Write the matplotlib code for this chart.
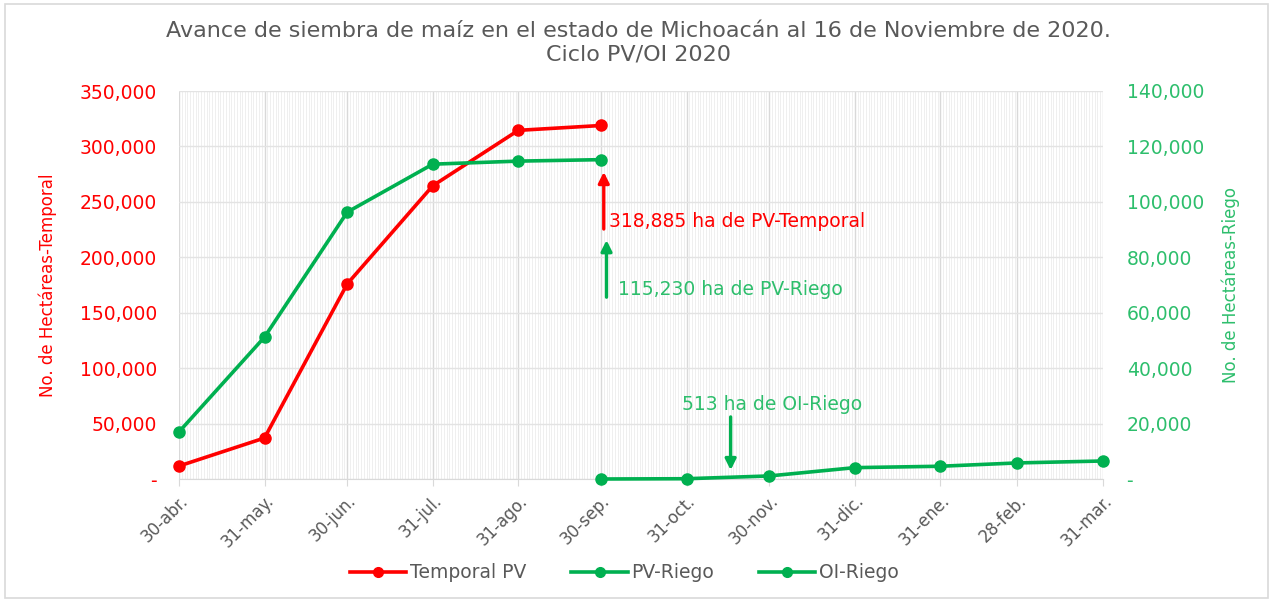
import matplotlib
matplotlib.use("Agg")
import matplotlib.pyplot as plt
import matplotlib.dates as mdates
from matplotlib.ticker import FuncFormatter, FixedLocator
from matplotlib.lines import Line2D
from matplotlib.patches import Rectangle
import pandas as pd

# ---- data ----
dates = ["2020-04-30", "2020-05-31", "2020-06-30", "2020-07-31", "2020-08-31", "2020-09-30",
         "2020-10-31", "2020-11-30", "2020-12-31", "2021-01-31", "2021-02-28", "2021-03-31"]
tick_labels = ["30-abr.", "31-may.", "30-jun.", "31-jul.", "31-ago.", "30-sep.",
               "31-oct.", "30-nov.", "31-dic.", "31-ene.", "28-feb.", "31-mar."]
temporal_dates = dates[:6]
temporal_pv = [11700, 37000, 176000, 264500, 314500, 318885]
pv_riego_dates = dates[:6]
pv_riego = [17000, 51200, 96300, 113600, 114700, 115230]
oi_riego_dates = dates[5:]
oi_riego = [0, 100, 1100, 4100, 4600, 5800, 6500]

RED = "#FF0000"
GREEN = "#00B050"
GREEN_TXT = "#2DBE6C"
GRAY = "#595959"
FONT = "DejaVu Sans"
plt.rcParams["font.family"] = [FONT]

fig = plt.figure(figsize=(12.73, 6.0), dpi=100)
fig.patches.append(Rectangle((0.004, 0.004), 0.992, 0.99, transform=fig.transFigure,
                             fill=False, edgecolor="#D9D9D9", lw=1.2))

ax = fig.add_axes([179 / 1273, 1 - 479 / 600, (1103 - 179) / 1273, (479 - 91) / 600])
ax2 = ax.twinx()

xd = mdates.date2num(pd.to_datetime(dates))
xt = mdates.date2num(pd.to_datetime(temporal_dates))
xp = mdates.date2num(pd.to_datetime(pv_riego_dates))
xo = mdates.date2num(pd.to_datetime(oi_riego_dates))

# grid: daily minor lines, major at each category
days = mdates.date2num(pd.date_range(dates[0], dates[-1], freq="D"))
ax.set_xlim(xd[0], xd[-1])
ax.xaxis.set_major_locator(FixedLocator(xd))
ax.xaxis.set_minor_locator(FixedLocator(days))
ax.set_xticklabels(tick_labels, rotation=45, ha="right", rotation_mode="anchor",
                   color=GRAY, fontsize=12)
ax.tick_params(axis="x", which="major", length=5, color="#D9D9D9", pad=4)
ax.tick_params(axis="x", which="minor", length=0)
ax.grid(True, which="minor", axis="x", color="#EDEDED", lw=0.6)
ax.grid(True, which="major", axis="x", color="#D9D9D9", lw=1.0)
ax.grid(True, which="major", axis="y", color="#E3E3E3", lw=1.0)
ax.set_axisbelow(True)

ax.set_ylim(0, 350000)
ax.set_yticks(range(0, 350001, 50000))
ax2.set_ylim(0, 140000)
ax2.set_yticks(range(0, 140001, 20000))

fmt = FuncFormatter(lambda v, p: "-" if v == 0 else f"{int(v):,}")
ax.yaxis.set_major_formatter(fmt)
ax2.yaxis.set_major_formatter(fmt)
ax.tick_params(axis="y", length=0, labelcolor=RED, labelsize=13.5, pad=16)
ax2.tick_params(axis="y", length=0, labelcolor=GREEN_TXT, labelsize=13.5, pad=17)

for a in (ax, ax2):
    for s in a.spines.values():
        s.set_visible(False)
ax.spines["bottom"].set_visible(True)
ax.spines["bottom"].set_color("#D9D9D9")

ax.set_ylabel("No. de Hectáreas-Temporal", color=RED, fontsize=12)
ax2.set_ylabel("No. de Hectáreas-Riego", color=GREEN_TXT, fontsize=12)
ax.yaxis.set_label_coords((57 - 179) / 924, 0.5)
ax2.yaxis.set_label_coords((1222 - 179) / 924, 0.5)

lw, ms = 2.6, 8
ax.plot(xt, temporal_pv, color=RED, lw=lw, marker="o", ms=ms, zorder=5, clip_on=False)
ax2.plot(xp, pv_riego, color=GREEN, lw=lw, marker="o", ms=ms, zorder=5, clip_on=False)
ax2.plot(xo, oi_riego, color=GREEN, lw=lw, marker="o", ms=ms, zorder=5, clip_on=False)

# annotations
def dn(s):
    return mdates.date2num(pd.Timestamp(s))

ap = dict(arrowstyle="-|>", lw=2.4, mutation_scale=16, shrinkA=0, shrinkB=0)
ax2.annotate("", xy=(dn("2020-10-01"), 277000 * 0.4), xytext=(dn("2020-10-01"), 225500 * 0.4),
             arrowprops=dict(ap, color=RED), zorder=6)
ax2.text(dn("2020-10-03"), 232000 * 0.4, "318,885 ha de PV-Temporal", color=RED, fontsize=13.5,
         va="center", ha="left")
ax2.annotate("", xy=(dn("2020-10-02"), 215500 * 0.4), xytext=(dn("2020-10-02"), 164000 * 0.4),
             arrowprops=dict(ap, color=GREEN), zorder=6)
ax2.text(dn("2020-10-06"), 171000 * 0.4, "115,230 ha de PV-Riego", color=GREEN_TXT, fontsize=13.5,
         va="center", ha="left")
ax2.annotate("", xy=(dn("2020-11-16"), 8000 * 0.4), xytext=(dn("2020-11-16"), 56000 * 0.4),
             arrowprops=dict(ap, color=GREEN), zorder=6)
ax2.text(dn("2020-12-01"), 67000 * 0.4, "513 ha de OI-Riego", color=GREEN_TXT, fontsize=13.5,
         va="center", ha="center")

fig.text(0.5015, 1 - 43 / 600,
         "Avance de siembra de maíz en el estado de Michoacán al 16 de Noviembre de 2020.\nCiclo PV/OI 2020",
         ha="center", va="center", color=GRAY, fontsize=16, linespacing=1.25)

handles = [Line2D([], [], color=RED, lw=lw, marker="o", ms=7),
           Line2D([], [], color=GREEN, lw=lw, marker="o", ms=7),
           Line2D([], [], color=GREEN, lw=lw, marker="o", ms=7)]
leg = fig.legend(handles, ["Temporal PV", "PV-Riego", "OI-Riego"], loc="center",
                 bbox_to_anchor=(0.4906, 1 - 573 / 600), ncol=3, frameon=False,
                 fontsize=13.5, handlelength=3.0, handletextpad=0.2, columnspacing=2.4)
for t in leg.get_texts():
    t.set_color(GRAY)

fig.savefig("out.png", dpi=100)
